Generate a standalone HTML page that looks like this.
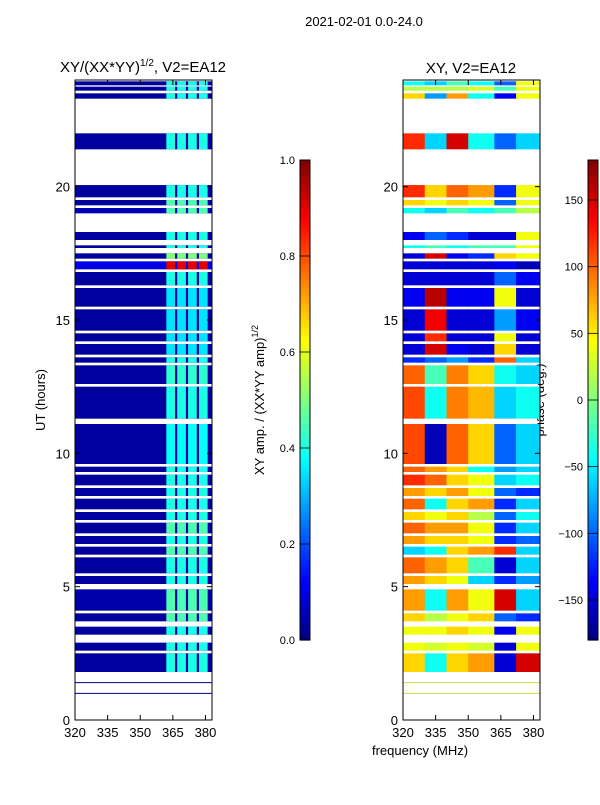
<!DOCTYPE html>
<html><head><meta charset="utf-8">
<style>
body{margin:0;background:#fff;}
svg text{font-family:"Liberation Sans",sans-serif;fill:#000;}
</style></head>
<body>
<svg id="fig" width="600" height="800" viewBox="0 0 600 800" xmlns="http://www.w3.org/2000/svg">
<text x="364" y="26" font-size="13" text-anchor="middle">2021-02-01 0.0-24.0</text>
<text x="143" y="72" font-size="15" text-anchor="middle">XY/(XX*YY)<tspan font-size="10" dy="-6">1/2</tspan><tspan dy="6">, V2=EA12</tspan></text>
<text x="471" y="73" font-size="15" text-anchor="middle">XY, V2=EA12</text>
<text x="0" y="0" font-size="13" text-anchor="middle" transform="translate(45,400) rotate(-90)">UT (hours)</text>
<text x="420" y="755" font-size="13" text-anchor="middle">frequency (MHz)</text>
<text x="0" y="0" font-size="13" text-anchor="middle" transform="translate(264,400) rotate(-90)">XY amp. / (XX*YY amp)<tspan font-size="9" dy="-6">1/2</tspan></text>
<text x="0" y="0" font-size="13" text-anchor="middle" transform="translate(544,400) rotate(-90)">phase (deg.)</text>
<g id="left"></g>
<g id="right"></g>
<g id="cb"></g>
</svg>
<script>
const segStart=[1.8,2.6,3.2,3.7,4.1,5.1,5.5,6.2,6.6,7.0,7.5,7.9,8.4,8.8,9.3,9.6,11.3,12.6,13.4,13.7,14.2,14.6,15.5,16.3,16.9,17.3,17.7,18.0,19.0,19.3,19.6,21.4,23.3,23.6,23.8];
const segEnd=[2.5,2.9,3.5,4.0,4.9,5.4,6.1,6.5,6.9,7.4,7.8,8.3,8.7,9.2,9.5,11.1,12.5,13.3,13.6,14.1,14.5,15.4,16.2,16.8,17.2,17.5,17.8,18.3,19.2,19.5,20.06,22.0,23.5,23.75,23.95];
const ampBase=[0.03,0.03,0.03,0.03,0.04,0.03,0.03,0.03,0.03,0.03,0.03,0.03,0.03,0.03,0.03,0.03,0.03,0.03,0.03,0.03,0.03,0.03,0.03,0.03,0.1,0.03,0.03,0.03,0.05,0.03,0.03,0.03,0.03,0.03,0.03];
const ampHigh=[0.4,0.4,0.4,0.45,0.45,0.4,0.4,0.45,0.4,0.45,0.4,0.4,0.4,0.4,0.4,0.38,0.4,0.42,0.4,0.35,0.35,0.35,0.35,0.4,0.9,0.5,0.4,0.4,0.45,0.45,0.4,0.4,0.4,0.4,0.4];
const phaseBins=[320,330,340,350,362,372,383];
const phase=[
[60,-40,60,80,-150,150],[40,30,40,30,-150,40],[40,40,60,40,-140,40],[60,20,40,60,-100,-120],
[80,-40,80,40,150,-60],[80,60,40,-60,-120,-80],[100,80,60,-20,-150,-60],[-60,-40,60,80,120,-60],
[80,60,60,40,-120,-100],[100,80,80,40,-120,-60],[60,40,60,20,-100,-40],[100,-40,60,80,-120,-60],
[80,60,80,40,-100,-120],[120,100,60,40,-60,-40],[100,80,60,-40,-80,-60],[110,-160,100,60,-100,-60],
[110,-40,90,70,-60,-40],[100,-20,90,60,-40,-60],[-120,-100,-80,-120,100,-60],[-150,150,-140,-150,60,-150],
[-150,120,-150,-150,40,-150],[-150,140,-150,-150,-80,-140],[-140,160,-140,-140,40,-150],[-150,-150,-150,-150,-100,-140],
[-150,-150,-150,-150,-140,-160],[-150,150,-140,-120,60,40],[-40,-20,-40,-20,-20,40],[-140,-100,-120,-150,-150,40],
[-40,-60,-20,-40,-20,20],[60,40,60,40,-100,40],[120,60,100,80,-120,40],[120,-60,150,-40,-100,-60],
[60,-80,80,-40,-140,40],[20,20,20,30,-20,40],[-40,-60,-20,-40,-100,40]];
const xTicks=[320,335,350,365,380];
const yTicks=[0,5,10,15,20];
const ampTicks=[0.0,0.2,0.4,0.6,0.8,1.0];
const phaseTicks=[-150,-100,-50,0,50,100,150];

const NS="http://www.w3.org/2000/svg";
function jet(v){v=Math.max(0,Math.min(1,v));
 const c=x=>Math.round(255*Math.max(0,Math.min(1,x)));
 return `rgb(${c(1.5-Math.abs(4*v-3))},${c(1.5-Math.abs(4*v-2))},${c(1.5-Math.abs(4*v-1))})`;}
function el(p,t,a){const e=document.createElementNS(NS,t);for(const k in a)e.setAttribute(k,a[k]);p.appendChild(e);return e;}
const T=80,B=720,F0=320,F1=383;
const yS=h=>B-(h/24)*(B-T);
function panel(g,x0,x1){return f=>x0+(f-F0)/(F1-F0)*(x1-x0);}

const L=document.getElementById('left'),R=document.getElementById('right');
const xl=panel(L,75,212),xr=panel(R,403,540);
const cols=[[362,366],[367,371],[372,376],[377,381]];
for(let i=0;i<segStart.length;i++){
 const y1=yS(segEnd[i]),y0=yS(segStart[i]);
 let r=el(L,'rect',{x:xl(320),y:y1,width:xl(383)-xl(320),height:y0-y1,fill:jet(ampBase[i])});
 
 
 for(const c of cols){
  let q=el(L,'rect',{x:xl(c[0]),y:y1,width:xl(c[1])-xl(c[0]),height:y0-y1,fill:jet(ampHigh[i])});
  
  
 }
 for(let b=0;b<6;b++){
  let q=el(R,'rect',{x:xr(phaseBins[b]),y:y1,width:xr(phaseBins[b+1])-xr(phaseBins[b])+0.5,height:y0-y1,fill:jet((phase[i][b]+180)/360)});
  
  
 }
}
for(const h of [1.0,1.4]){
 el(L,'line',{x1:75,x2:212,y1:yS(h),y2:yS(h),stroke:'#00008f','stroke-width':1});
 el(R,'line',{x1:403,x2:540,y1:yS(h),y2:yS(h),stroke:'#c8e050','stroke-width':1});
}
function axes(g,x0,x1,xs){
 let fr=el(g,'rect',{x:x0,y:T,width:x1-x0,height:B-T,fill:'none',stroke:'#000','stroke-width':1});
 
 
 for(const t of xTicks){const x=xs(t);
  el(g,'line',{x1:x,x2:x,y1:B,y2:B-5,stroke:'#000'});el(g,'line',{x1:x,x2:x,y1:T,y2:T+5,stroke:'#000'});
  let tx=el(g,'text',{x:x,y:B+17,'font-size':13,'text-anchor':'middle'});tx.textContent=t;
  
  }
 for(const t of yTicks){const y=yS(t);
  el(g,'line',{x1:x0,x2:x0+5,y1:y,y2:y,stroke:'#000'});el(g,'line',{x1:x1,x2:x1-5,y1:y,y2:y,stroke:'#000'});
  let tx=el(g,'text',{x:x0-5,y:y+5,'font-size':13,'text-anchor':'end'});tx.textContent=t;
  
  }
}
axes(L,75,212,xl);axes(R,403,540,xr);

const C=document.getElementById('cb');
function colorbar(x,lo,hi,ticks,fmt){
 const top=160,bot=640,n=120;
 for(let k=0;k<n;k++){el(C,'rect',{x:x,y:bot-(k+1)*(bot-top)/n,width:10,height:(bot-top)/n+0.6,fill:jet((k+0.5)/n)});}
 el(C,'rect',{x:x,y:top,width:10,height:bot-top,fill:'none',stroke:'#000'});
 for(const t of ticks){const y=bot-(t-lo)/(hi-lo)*(bot-top);
  el(C,'line',{x1:x,x2:x+10,y1:y,y2:y,stroke:'#000','stroke-width':0.8});
  let tx=el(C,'text',{x:x-5,y:y+4,'font-size':11,'text-anchor':'end'});tx.textContent=fmt(t);
  
  }
}
colorbar(300,0,1,ampTicks,t=>t.toFixed(1));
colorbar(588,-180,180,phaseTicks,t=>String(t).replace('-','\u2212'));
</script>
</body></html>
